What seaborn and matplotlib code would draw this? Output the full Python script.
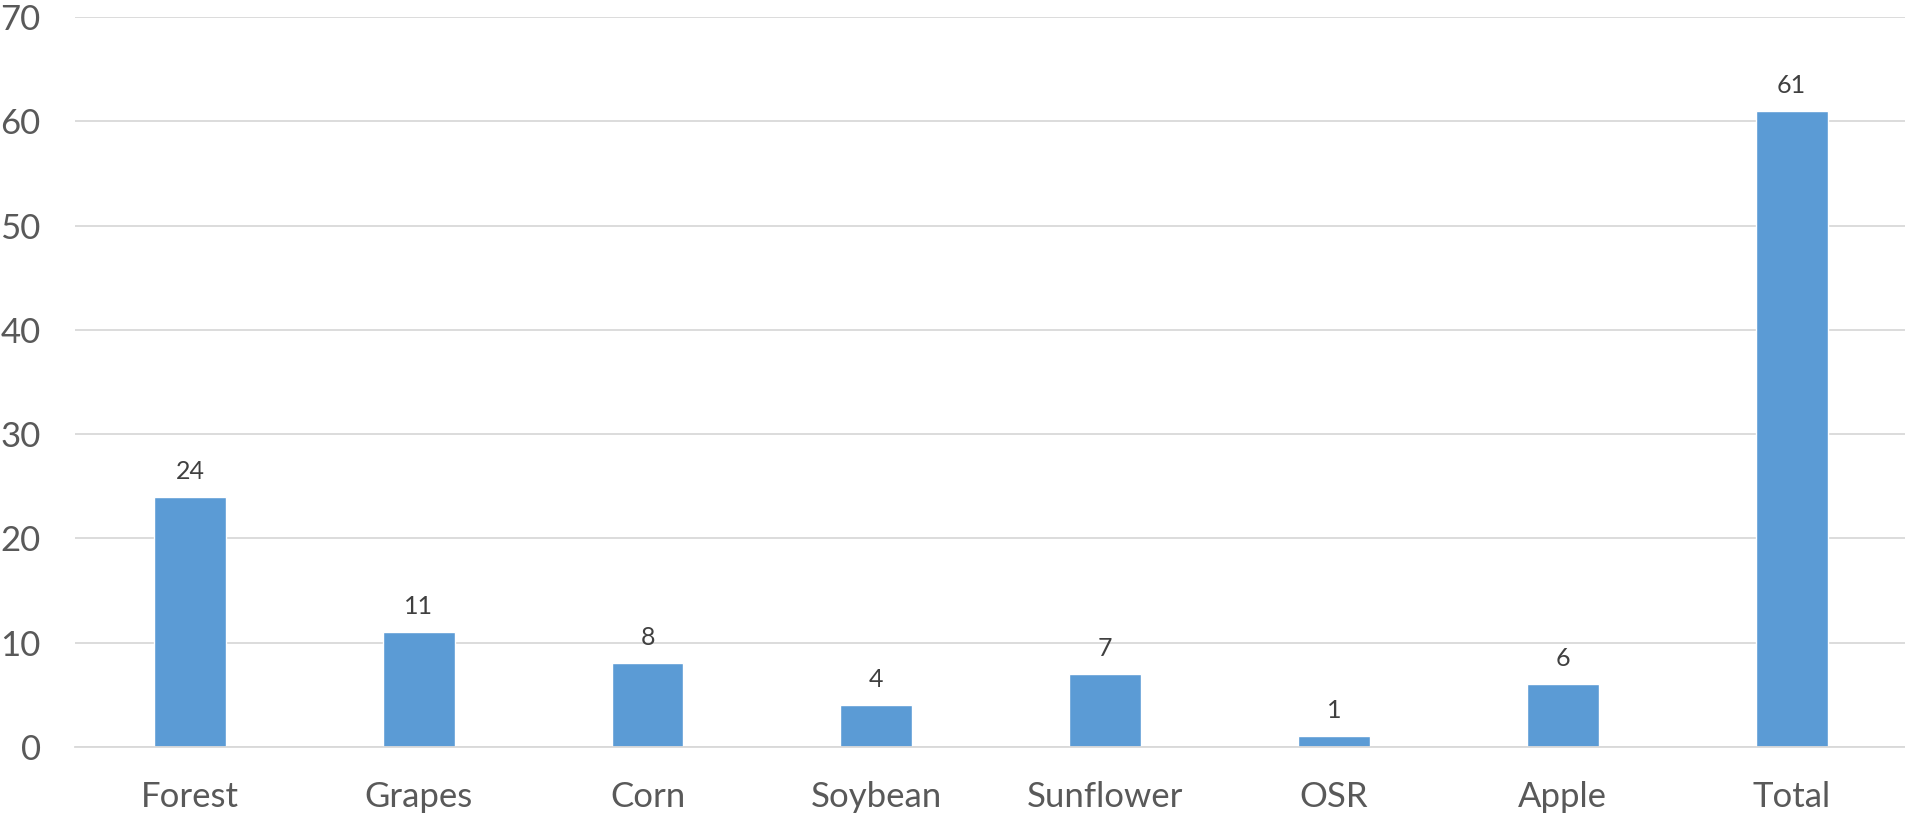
import pandas as pd
import seaborn as sns
import matplotlib.pyplot as plt

# -----------------------------------------------------------------------------
# Counts per crop type, plus the total
# -----------------------------------------------------------------------------

categories = ["Forest", "Grapes", "Corn", "Soybean", "Sunflower", "OSR", "Apple", "Total"]
counts = [24, 11, 8, 4, 7, 1, 6, 61]

BAR_COLOR = "#5B9BD5"
GRID_COLOR = "#D9D9D9"
TICK_COLOR = "#595959"
LABEL_COLOR = "#404040"


def construct_plot(df):
    sns.set_style("white")
    plt.rcParams['font.family'] = ['Lato', 'DejaVu Sans']

    fig = plt.figure(figsize=(19.06, 8.17), dpi=100)
    ax = fig.add_axes([0.0396, 0.086, 0.9604, 0.893])

    sns.barplot(data=df, x="category", y="count", color=BAR_COLOR,
                width=0.314, saturation=1, ax=ax)

    ax.set_ylim(0, 70)
    ax.set_yticks(range(0, 71, 10))
    ax.set_xlim(-0.5, len(categories) - 0.5)
    ax.grid(axis='y', color=GRID_COLOR, linewidth=1.3)
    ax.set_axisbelow(True)
    for side in ["top", "right", "left"]:
        ax.spines[side].set_visible(False)
    ax.spines["bottom"].set_color(GRID_COLOR)
    ax.spines["bottom"].set_linewidth(1.3)

    ax.tick_params(axis='y', length=0, pad=25, labelsize=25, labelcolor=TICK_COLOR)
    ax.tick_params(axis='x', length=0, pad=25, labelsize=25, labelcolor=TICK_COLOR)
    ax.set_xlabel("")
    ax.set_ylabel("")

    for i, v in enumerate(counts):
        ax.annotate(str(v), (i, v), xytext=(0, 10), textcoords="offset points",
                    ha="center", va="bottom", fontsize=18, color=LABEL_COLOR)
    return fig


def main():
    df = pd.DataFrame({"category": categories, "count": counts})
    fig = construct_plot(df)
    fig.savefig("out.png", dpi=100)


if __name__ == "__main__":
    main()
